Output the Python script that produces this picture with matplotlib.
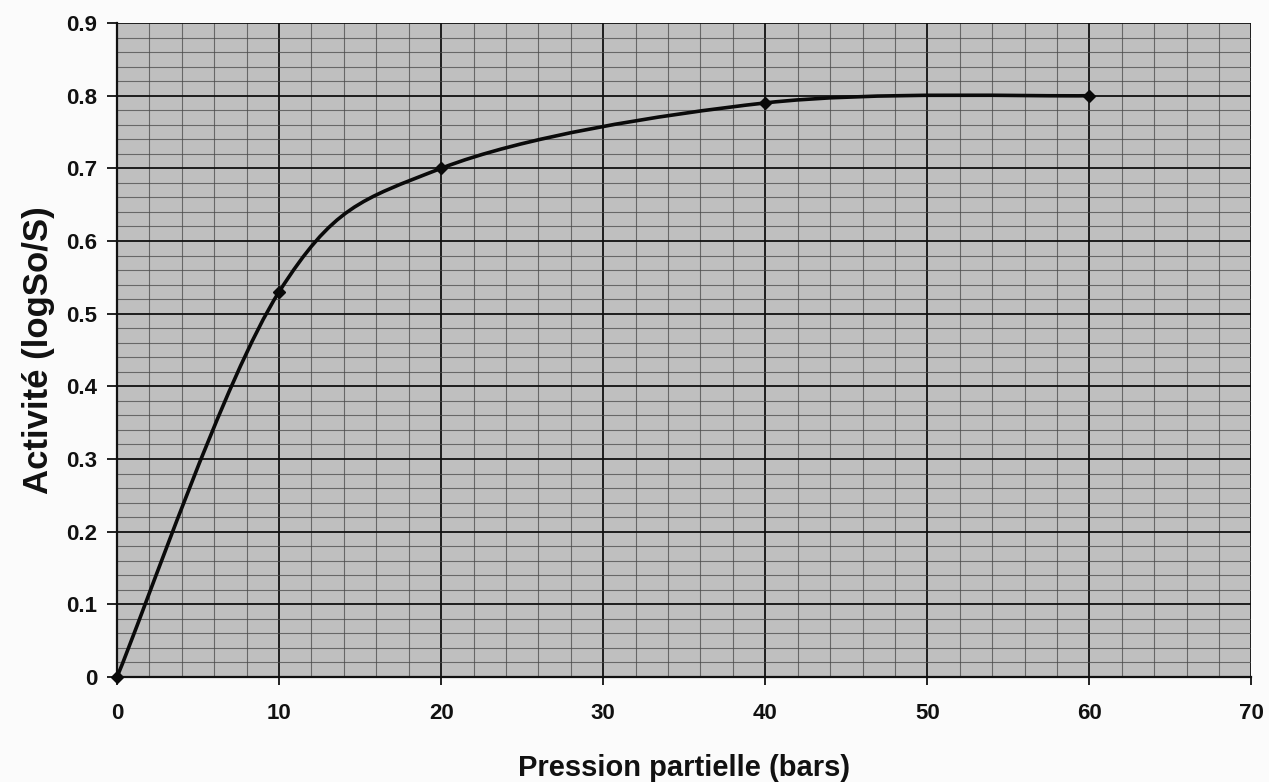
import matplotlib
matplotlib.use("Agg")
import matplotlib.pyplot as plt
from matplotlib.path import Path
from matplotlib.patches import PathPatch
import numpy as np

# values
pression = [0, 10, 20, 40, 60]
activite = [0.0, 0.53, 0.70, 0.79, 0.80]

x_ticks = [0, 10, 20, 30, 40, 50, 60, 70]
y_ticks = [0, 0.1, 0.2, 0.3, 0.4, 0.5, 0.6, 0.7, 0.8, 0.9]
y_tick_labels = ["0", "0.1", "0.2", "0.3", "0.4", "0.5", "0.6", "0.7", "0.8", "0.9"]

plt.rcParams["font.family"] = ["Liberation Sans", "DejaVu Sans"]
plt.rcParams["font.weight"] = "bold"


def smooth_path(xs, ys):
    # Excel-like smoothed line: cubic bezier segments between the points
    pts = np.column_stack([xs, ys]).astype(float)
    n = len(pts)
    verts = [pts[0]]
    codes = [Path.MOVETO]
    for i in range(n - 1):
        p0 = pts[i - 1] if i > 0 else pts[i]
        p1 = pts[i]
        p2 = pts[i + 1]
        p3 = pts[i + 2] if i + 2 < n else pts[i + 1]
        c1 = p1 + (p2 - p0) / 6.0
        c2 = p2 - (p3 - p1) / 6.0
        verts += [c1, c2, p2]
        codes += [Path.CURVE4] * 3
    return Path(verts, codes)


fig = plt.figure(figsize=(12.69, 7.82), dpi=100)
fig.patch.set_facecolor("#fbfbfb")
ax = fig.add_axes([0.0922, 0.1343, 0.894, 0.8363])
ax.set_facecolor("#bfbfbf")

ax.set_xlim(0, 70)
ax.set_ylim(0, 0.9)

ax.set_xticks(x_ticks)
ax.set_yticks(y_ticks)
ax.set_yticklabels(y_tick_labels)
ax.set_xticks(np.arange(0, 71, 2), minor=True)
ax.set_yticks(np.arange(0, 0.901, 0.02), minor=True)

ax.grid(which="minor", color="#4a4a4a", linewidth=0.8, alpha=0.75)
ax.grid(which="major", color="#111111", linewidth=1.3)
ax.set_axisbelow(True)

ax.tick_params(which="minor", length=0)
ax.tick_params(axis="x", which="major", length=6, width=1.3, direction="out",
               labelsize=16, pad=13, color="#111111", labelcolor="#111111")
ax.tick_params(axis="y", which="major", length=7, width=1.3, direction="out",
               labelsize=16, pad=7, color="#111111", labelcolor="#111111")

for side in ["top", "right"]:
    ax.spines[side].set_visible(False)
for side in ["left", "bottom"]:
    ax.spines[side].set_color("#111111")
    ax.spines[side].set_linewidth(1.6)

curve = PathPatch(smooth_path(pression, activite), facecolor="none",
                  edgecolor="#0a0a0a", linewidth=2.6, zorder=3)
ax.add_patch(curve)
ax.plot(pression, activite, linestyle="none", marker="D", markersize=6,
        color="#0a0a0a", zorder=4, clip_on=False)

ax.set_xlabel("Pression partielle (bars)", fontsize=21, fontweight="bold",
              labelpad=21, color="#111111")
ax.set_ylabel("Activité (logSo/S)", fontsize=25, fontweight="bold",
              labelpad=8, color="#111111")

fig.savefig("out.png", dpi=100, facecolor=fig.get_facecolor())
